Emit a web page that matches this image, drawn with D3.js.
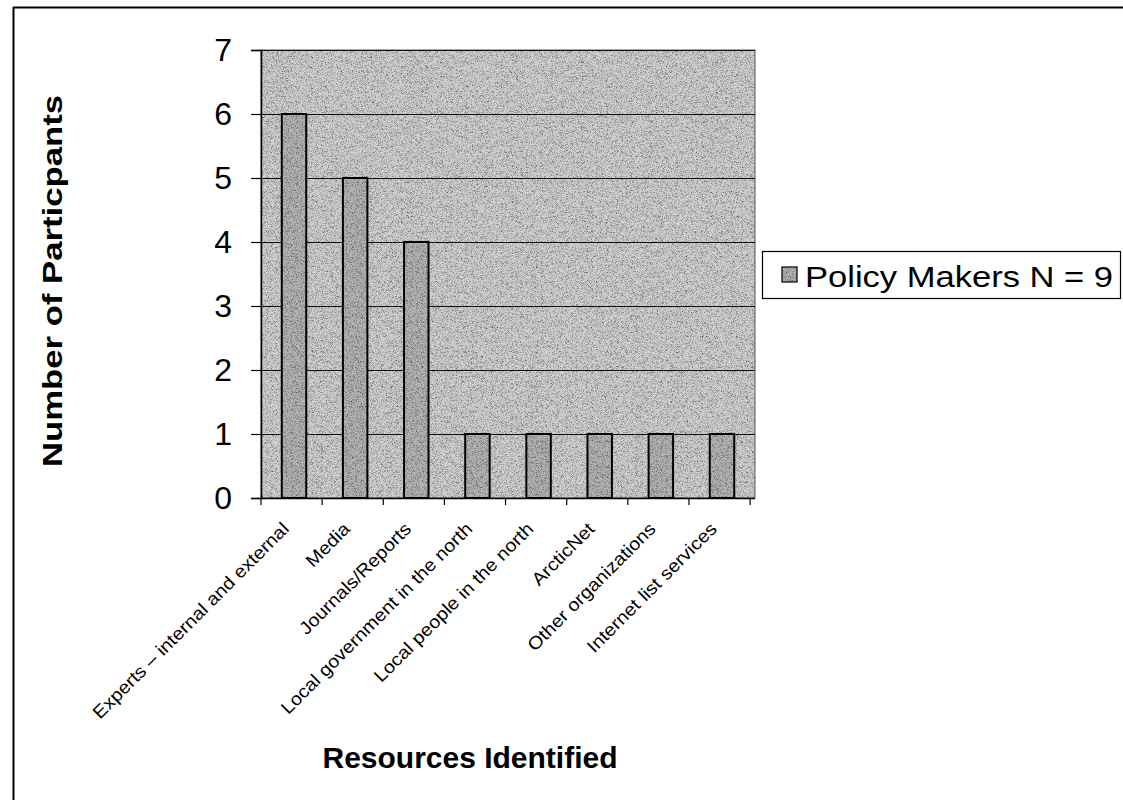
<!DOCTYPE html>
<html>
<head>
<meta charset="utf-8">
<script src="https://cdn.jsdelivr.net/npm/d3@7"></script>
<style>
  html, body { margin: 0; padding: 0; background: #fff; }
  svg { display: block; font-family: "Liberation Sans", Arial, sans-serif; }
</style>
</head>
<body>
<svg id="chart" width="1123" height="800"></svg>
<script>
// Resources identified by policy makers
const categories = [
  "Experts \u2013 internal and external",
  "Media",
  "Journals/Reports",
  "Local government in the north",
  "Local people in the north",
  "ArcticNet",
  "Other organizations",
  "Internet list services"
];
const participants = [6, 5, 4, 1, 1, 1, 1, 1];
const yTicks = [0, 1, 2, 3, 4, 5, 6, 7];
const seriesName = "Policy Makers N = 9";
const yTitle = "Number of Particpants";
const xTitle = "Resources Identified";

const svg = d3.select("#chart");

// halftone-like grain for the shaded fills
const defs = svg.append("defs");
const grain = defs.append("filter").attr("id", "grain")
  .attr("x", 0).attr("y", 0).attr("width", 1).attr("height", 1);
grain.append("feTurbulence")
  .attr("type", "fractalNoise").attr("baseFrequency", 1.8)
  .attr("numOctaves", 1).attr("seed", 3).attr("result", "noise");
grain.append("feColorMatrix")
  .attr("in", "noise").attr("type", "matrix")
  .attr("values", "0 0 0 0 0  0 0 0 0 0  0 0 0 0 0  0 0 0 -2.2 1.25")
  .attr("result", "dots");
grain.append("feComposite").attr("in", "dots").attr("in2", "SourceGraphic").attr("operator", "in")
  .attr("result", "clipped");
grain.append("feMerge").call(m => {
  m.append("feMergeNode").attr("in", "SourceGraphic");
  m.append("feMergeNode").attr("in", "clipped");
});

// chart frame
svg.append("line").attr("x1", 13).attr("x2", 1123).attr("y1", 7.5).attr("y2", 7.5)
  .attr("stroke", "#000").attr("stroke-width", 2);
svg.append("line").attr("x1", 13.5).attr("x2", 13.5).attr("y1", 7).attr("y2", 800)
  .attr("stroke", "#000").attr("stroke-width", 2);

const plot = { left: 261, right: 755, top: 50, bottom: 498 };

const x = d3.scaleBand()
  .domain(categories)
  .range([plot.left, plot.right])
  .paddingInner(0.6)
  .paddingOuter(0.34);

const y = d3.scaleLinear()
  .domain([0, 7])
  .range([plot.bottom, plot.top]);

// plot background
svg.append("rect")
  .attr("x", plot.left).attr("y", plot.top)
  .attr("width", plot.right - plot.left).attr("height", plot.bottom - plot.top)
  .attr("fill", "#d0d0d0")
  .attr("filter", "url(#grain)");
svg.append("rect")
  .attr("x", plot.left).attr("y", plot.top)
  .attr("width", plot.right - plot.left).attr("height", plot.bottom - plot.top)
  .attr("fill", "none")
  .attr("stroke", "#555").attr("stroke-width", 1);

// horizontal gridlines
svg.append("g")
  .selectAll("line")
  .data(yTicks.filter(d => d > 0))
  .join("line")
  .attr("x1", plot.left).attr("x2", plot.right)
  .attr("y1", d => Math.round(y(d)) + 0.5).attr("y2", d => Math.round(y(d)) + 0.5)
  .attr("stroke", "#111").attr("stroke-width", 1.2);

// bars
const bars = svg.append("g")
  .selectAll("g")
  .data(categories.map((c, i) => ({ c, v: participants[i] })))
  .join("g");
bars.append("rect")
  .attr("x", d => x(d.c))
  .attr("y", d => y(d.v))
  .attr("width", x.bandwidth())
  .attr("height", d => y(0) - y(d.v))
  .attr("fill", "#b4b4b4")
  .attr("filter", "url(#grain)");
bars.append("rect")
  .attr("x", d => x(d.c))
  .attr("y", d => y(d.v))
  .attr("width", x.bandwidth())
  .attr("height", d => y(0) - y(d.v))
  .attr("fill", "none")
  .attr("stroke", "#000")
  .attr("stroke-width", 2);

// y axis
const yAxis = d3.axisLeft(y).tickValues(yTicks).tickSize(10).tickPadding(19).tickFormat(d3.format("d"));
const gy = svg.append("g").attr("transform", `translate(${plot.left},0)`).call(yAxis);
gy.select(".domain").attr("stroke", "#000").attr("stroke-width", 1.5);
gy.selectAll(".tick line").attr("stroke", "#000").attr("stroke-width", 1.2);
gy.selectAll(".tick text")
  .attr("font-size", 32)
  .attr("fill", "#000")
  .attr("font-family", "Liberation Sans, Arial, sans-serif");

// x axis: ticks at category boundaries
const boundaries = d3.range(categories.length + 1).map(i => plot.left + i * x.step());
const gx = svg.append("g");
gx.append("line")
  .attr("x1", plot.left).attr("x2", plot.right)
  .attr("y1", plot.bottom + 0.5).attr("y2", plot.bottom + 0.5)
  .attr("stroke", "#000").attr("stroke-width", 1.5);
gx.selectAll("line.tk")
  .data(boundaries)
  .join("line")
  .attr("class", "tk")
  .attr("x1", d => d).attr("x2", d => d)
  .attr("y1", plot.bottom).attr("y2", plot.bottom + 7)
  .attr("stroke", "#000").attr("stroke-width", 1.2);

// rotated category labels, set slightly wide like the printed face
const labels = gx.selectAll("text.cat")
  .data(categories)
  .join("text")
  .attr("class", "cat")
  .attr("transform", d => `translate(${x(d) + x.bandwidth() / 2 - 4},${plot.bottom + 32}) rotate(-45)`)
  .attr("text-anchor", "end")
  .attr("font-size", 18)
  .attr("fill", "#000")
  .text(d => d);
labels.each(function () {
  const w = this.getComputedTextLength();
  d3.select(this).attr("textLength", w * 1.1).attr("lengthAdjust", "spacingAndGlyphs");
});

// axis titles
svg.append("text")
  .attr("transform", "translate(62,281) rotate(-90)")
  .attr("text-anchor", "middle")
  .attr("font-size", 28)
  .attr("font-weight", "bold")
  .attr("fill", "#000")
  .attr("textLength", 372)
  .attr("lengthAdjust", "spacingAndGlyphs")
  .text(yTitle);

svg.append("text")
  .attr("x", 470).attr("y", 768)
  .attr("text-anchor", "middle")
  .attr("font-size", 30)
  .attr("font-weight", "bold")
  .attr("fill", "#000")
  .attr("textLength", 295)
  .attr("lengthAdjust", "spacingAndGlyphs")
  .text(xTitle);

// legend
const lg = svg.append("g");
lg.append("rect")
  .attr("x", 762.5).attr("y", 251.5).attr("width", 358).attr("height", 47)
  .attr("fill", "#fff").attr("stroke", "#000").attr("stroke-width", 1.2);
lg.append("rect")
  .attr("x", 782).attr("y", 267).attr("width", 15).attr("height", 15)
  .attr("fill", "#b4b4b4").attr("filter", "url(#grain)");
lg.append("rect")
  .attr("x", 782).attr("y", 267).attr("width", 15).attr("height", 15)
  .attr("fill", "none").attr("stroke", "#000").attr("stroke-width", 1.2);
lg.append("text")
  .attr("x", 805).attr("y", 287)
  .attr("font-size", 30)
  .attr("fill", "#000")
  .attr("textLength", 308)
  .attr("lengthAdjust", "spacingAndGlyphs")
  .text(seriesName);
</script>
</body>
</html>
